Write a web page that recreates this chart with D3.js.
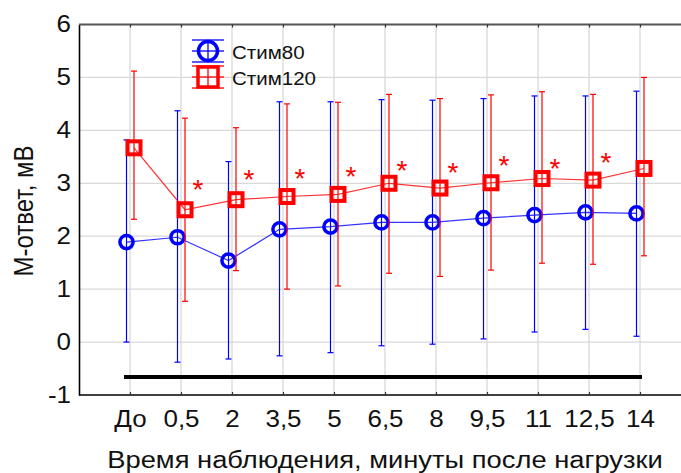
<!DOCTYPE html>
<html>
<head>
<meta charset="utf-8">
<script src="https://cdn.jsdelivr.net/npm/d3@7"></script>
<style>
  html, body { margin: 0; padding: 0; background: #fff; }
  svg { display: block; font-family: "Liberation Sans", Arial, sans-serif; }
</style>
</head>
<body>
<svg id="chart" width="681" height="473"></svg>
<script>
// Time points after load (minutes)
const categories = ["До", "0,5", "2", "3,5", "5", "6,5", "8", "9,5", "11", "12,5", "14"];

// Стим80: mean and whisker ends (mV)
const stim80Mean  = [1.89, 1.98, 1.54, 2.13, 2.18, 2.26, 2.26, 2.34, 2.40, 2.45, 2.43];
const stim80Low   = [0.00, -0.38, -0.32, -0.26, -0.20, -0.07, -0.04, 0.06, 0.19, 0.24, 0.11];
const stim80High  = [3.82, 4.37, 3.41, 4.54, 4.54, 4.58, 4.57, 4.60, 4.65, 4.65, 4.74];

// Стим120: mean and whisker ends (mV)
const stim120Mean = [3.67, 2.50, 2.69, 2.75, 2.79, 3.00, 2.91, 3.01, 3.09, 3.06, 3.28];
const stim120Low  = [2.32, 0.77, 1.35, 1.00, 1.06, 1.30, 1.24, 1.36, 1.49, 1.47, 1.63];
const stim120High = [5.12, 4.23, 4.05, 4.50, 4.53, 4.68, 4.60, 4.67, 4.73, 4.68, 5.00];

// Significance marks: time point and height of the asterisk (mV)
const sigPoints = ["0,5", "2", "3,5", "5", "6,5", "8", "9,5", "11", "12,5"];
const sigLevels = [3.01, 3.19, 3.21, 3.25, 3.37, 3.33, 3.46, 3.40, 3.52];

// Load period bar
const loadSpan = ["До", "14"];
const loadLevel = -0.66;

const yTicks = [-1, 0, 1, 2, 3, 4, 5, 6];

const series = [
  { name: "Стим80",  mean: stim80Mean,  low: stim80Low,  high: stim80High,  color: "#0000ff", shape: "circle", dx: -3.5 },
  { name: "Стим120", mean: stim120Mean, low: stim120Low, high: stim120High, color: "#ff0000", shape: "square", dx: 4 }
];

const svg = d3.select("#chart");
const plotL = 79, plotT = 24.5, plotB = 395, plotR = 691;
const wide = 1.13;   // horizontal widening of the lettering
const font = "Liberation Sans, Arial, sans-serif";

const x = d3.scalePoint().domain(categories).range([plotL, plotR]).padding(1);
const y = d3.scaleLinear().domain([-1, 6]).range([plotB, plotT]);

// Grid
const grid = svg.append("g").attr("stroke", "#d9d9d9").attr("stroke-width", 1.3);
grid.selectAll("line.h").data(yTicks.filter(v => v > -1 && v < 6)).join("line")
  .attr("class", "h")
  .attr("x1", plotL).attr("x2", plotR)
  .attr("y1", d => y(d)).attr("y2", d => y(d));
grid.selectAll("line.v").data(categories).join("line")
  .attr("class", "v")
  .attr("x1", d => x(d)).attr("x2", d => x(d))
  .attr("y1", plotT).attr("y2", plotB);

// Axes
const yAxis = svg.append("g").attr("transform", `translate(${plotL},0)`)
  .call(d3.axisLeft(y).tickValues(yTicks).tickSize(0).tickPadding(8).tickFormat(d => String(d)));
yAxis.select(".domain").attr("stroke", "#000").attr("stroke-width", 1.6);
yAxis.selectAll("text")
  .attr("x", -8 / wide).attr("transform", `scale(${wide},1)`)
  .attr("font-size", 23).attr("fill", "#111").attr("font-family", font);

const xAxis = svg.append("g").attr("transform", `translate(0,${plotB})`)
  .call(d3.axisBottom(x).tickSize(-3).tickPadding(16).tickSizeOuter(0));
xAxis.select(".domain").attr("d", `M${plotL},0H681`).attr("stroke", "#000").attr("stroke-width", 1.6);
xAxis.selectAll(".tick line").attr("stroke", "#333").attr("stroke-width", 1.2);
xAxis.selectAll("text")
  .attr("transform", `scale(${wide},1)`)
  .attr("font-size", 23).attr("fill", "#111").attr("font-family", font);

const topAxis = svg.append("g").attr("transform", `translate(0,${plotT})`)
  .call(d3.axisTop(x).tickSize(-3).tickFormat("").tickSizeOuter(0));
topAxis.select(".domain").attr("d", `M${plotL},0H681`).attr("stroke", "#555").attr("stroke-width", 2);
topAxis.selectAll(".tick line").attr("stroke", "#333").attr("stroke-width", 1.2);

// Load period bar
svg.append("line")
  .attr("x1", x(loadSpan[0]) - 6).attr("x2", x(loadSpan[1]) + 2)
  .attr("y1", y(loadLevel)).attr("y2", y(loadLevel))
  .attr("stroke", "#000").attr("stroke-width", 4);

// Series: whiskers, connecting line, markers
series.forEach(s => {
  const g = svg.append("g");
  const px = (c) => x(c) + s.dx;
  const idx = d3.range(categories.length);

  const eb = g.append("g").attr("stroke", s.color).attr("stroke-width", 1.2);
  eb.selectAll("line.bar").data(idx).join("line").attr("class", "bar")
    .attr("x1", i => px(categories[i])).attr("x2", i => px(categories[i]))
    .attr("y1", i => y(s.low[i])).attr("y2", i => y(s.high[i]));
  eb.selectAll("line.capH").data(idx).join("line").attr("class", "capH")
    .attr("x1", i => px(categories[i]) - 3).attr("x2", i => px(categories[i]) + 3)
    .attr("y1", i => y(s.high[i])).attr("y2", i => y(s.high[i]));
  eb.selectAll("line.capL").data(idx).join("line").attr("class", "capL")
    .attr("x1", i => px(categories[i]) - 3).attr("x2", i => px(categories[i]) + 3)
    .attr("y1", i => y(s.low[i])).attr("y2", i => y(s.low[i]));

  g.append("path")
    .datum(idx)
    .attr("fill", "none").attr("stroke", s.color).attr("stroke-width", 1.2).attr("stroke-opacity", 0.8)
    .attr("d", d3.line().x(i => px(categories[i])).y(i => y(s.mean[i])));

  const m = g.append("g").attr("fill", "none").attr("stroke", s.color);
  if (s.shape === "circle") {
    m.attr("stroke-width", 3.5);
    m.selectAll("circle").data(idx).join("circle")
      .attr("cx", i => px(categories[i])).attr("cy", i => y(s.mean[i])).attr("r", 6.6);
  } else {
    m.attr("stroke-width", 4);
    m.selectAll("rect").data(idx).join("rect")
      .attr("x", i => px(categories[i]) - 6.5).attr("y", i => y(s.mean[i]) - 6.5)
      .attr("width", 13).attr("height", 13);
  }
});

// Significance asterisks
svg.append("g").selectAll("text").data(sigPoints).join("text")
  .attr("x", (c) => x(c) + 17)
  .attr("y", (c, i) => y(sigLevels[i]) + 16)
  .attr("text-anchor", "middle")
  .attr("font-size", 28).attr("fill", "#ff0000").attr("font-family", font)
  .text("*");

// Legend
const legend = svg.append("g");
const legendRows = [{ s: series[0], cy: 51 }, { s: series[1], cy: 77 }];
legendRows.forEach(({ s, cy }) => {
  const cx = 208;
  const lg = legend.append("g").attr("stroke", s.color);
  [-11, 0, 11].forEach(o => {
    lg.append("line").attr("x1", cx - 16).attr("x2", cx + 16)
      .attr("y1", cy + o).attr("y2", cy + o).attr("stroke-width", 1.3);
  });
  lg.append("line").attr("x1", cx).attr("x2", cx).attr("y1", cy - 9).attr("y2", cy + 9).attr("stroke-width", 1.3);
  if (s.shape === "circle") {
    lg.append("circle").attr("cx", cx).attr("cy", cy).attr("r", 9.5)
      .attr("fill", "none").attr("stroke-width", 3.5);
  } else {
    lg.append("rect").attr("x", cx - 10).attr("y", cy - 10).attr("width", 20).attr("height", 20)
      .attr("fill", "none").attr("stroke-width", 3.5);
  }
  legend.append("text")
    .attr("transform", `translate(232,${cy + 7.5}) scale(1.08,1)`)
    .attr("font-size", 19).attr("fill", "#111").attr("font-family", font).text(s.name);
});

// Axis titles
svg.append("text")
  .attr("transform", `translate(${(plotL + plotR) / 2},468) scale(${wide},1)`)
  .attr("text-anchor", "middle").attr("font-size", 24.2).attr("fill", "#111").attr("font-family", font)
  .text("Время наблюдения, минуты после нагрузки");

svg.append("text")
  .attr("transform", `translate(33,211) scale(${wide},1) rotate(-90)`)
  .attr("text-anchor", "middle").attr("font-size", 24).attr("fill", "#111").attr("font-family", font)
  .text("М-ответ, мВ");
</script>
</body>
</html>
